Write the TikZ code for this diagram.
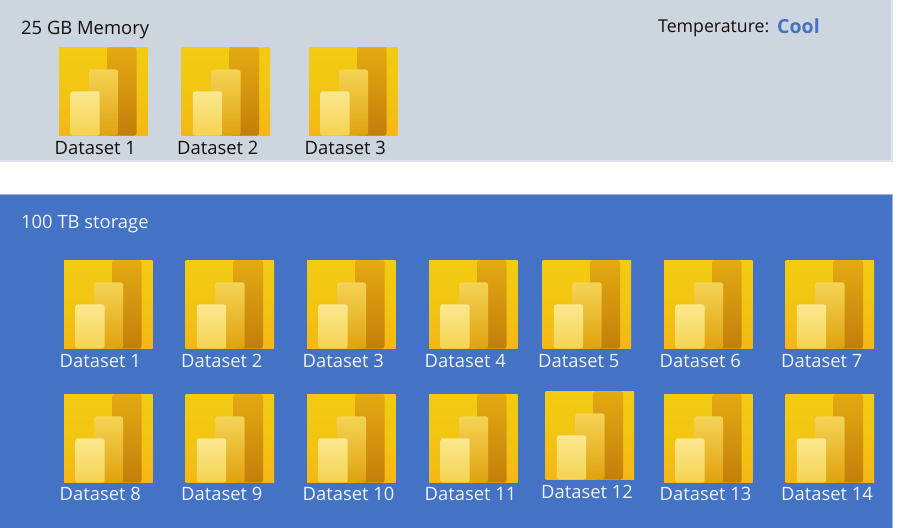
\documentclass[tikz,border=0pt]{standalone}
\usepackage{fontspec}
\setmainfont{Open Sans}
\definecolor{panelgrey}{HTML}{CDD5DF}
\definecolor{panelblue}{HTML}{4472C4}
\definecolor{edgegrey}{HTML}{DEE5EE}
\definecolor{inkblack}{HTML}{111111}
\definecolor{labelwhite}{HTML}{F0F3FA}
\definecolor{bgtop}{HTML}{F2CB12}
\definecolor{bgmid}{HTML}{F2C512}
\definecolor{bgbot}{HTML}{F5B616}
\definecolor{darktop}{HTML}{E3AA12}
\definecolor{darkbot}{HTML}{C37E0B}
\definecolor{midtop}{HTML}{F5D355}
\definecolor{midbot}{HTML}{DFA20E}
\definecolor{fronttop}{HTML}{FBE88F}
\definecolor{frontbot}{HTML}{F5D351}
\tikzset{
  x=1pt,y=-1pt,
  darklabel/.style={anchor=west,inner sep=0pt,text=inkblack,font=\fontsize{18.4}{20}\selectfont},
  lightlabel/.style={anchor=west,inner sep=0pt,text=labelwhite,font=\fontsize{18.4}{20}\selectfont},
  dsicon/.pic={
    \shade[top color=bgtop,bottom color=bgbot,middle color=bgmid] (0,0) rectangle (88.7,88.7);
    \shade[top color=darktop,bottom color=darkbot,rounded corners=2.5pt] (48,0) -- (77.5,0) -- (77.5,88.7) -- (48,88.7) -- cycle;
    \shade[top color=midtop,bottom color=midbot,rounded corners=2.5pt] (30,88.7) -- (30,22.3) -- (59,22.3) -- (59,88.7) -- cycle;
    \shade[top color=fronttop,bottom color=frontbot,rounded corners=2.5pt] (11.4,88.7) -- (11.4,44.3) -- (40.7,44.3) -- (40.7,88.7) -- cycle;
  }
}
\begin{document}
\begin{tikzpicture}
\useasboundingbox (0,0) rectangle (906,528);
\fill[white] (0,0) rectangle (906,528);
\fill[edgegrey] (0,0) rectangle (893,161.5);
\fill[panelgrey] (0,0) rectangle (891,159.5);
\fill[edgegrey!60!panelblue] (0,194) rectangle (893,528);
\fill[panelblue] (0,195) rectangle (891.5,528);
\node[darklabel] (memlabel) at (21,30) {25 GB Memory};
\node[darklabel,font=\fontsize{17.7}{20}\selectfont] (templabel) at (658,28) {Temperature:};
\node[anchor=west,inner sep=0pt,text=panelblue,font=\fontsize{19.5}{20}\selectfont\bfseries] (tempvalue) at (777,26) {Cool};
\node[lightlabel] (storelabel) at (21,224) {100 TB storage};
\foreach \ix/\n in {59/1,181.5/2,309/3}{
  \pic at (\ix,47) {dsicon};
  \node[darklabel] (top\n) at (\ix-4.5,148) {Dataset \n};
}
\foreach \ix/\n in {64/1,185.5/2,307/3,429/4,542.5/5,664/6,785.5/7}{
  \pic at (\ix,260) {dsicon};
  \node[lightlabel] (rowa\n) at (\ix-4.5,361) {Dataset \n};
}
\foreach \ix/\iy/\ly/\n in {64/394/494/8,185.5/394/494/9,307/394/494/10,429/394/494/11,545.5/391/491.5/12,664/394/494/13,785.5/394/494/14}{
  \pic at (\ix,\iy) {dsicon};
  \node[lightlabel] (rowb\n) at (\ix-4.5,\ly) {Dataset \n};
}
\end{tikzpicture}
\end{document}
